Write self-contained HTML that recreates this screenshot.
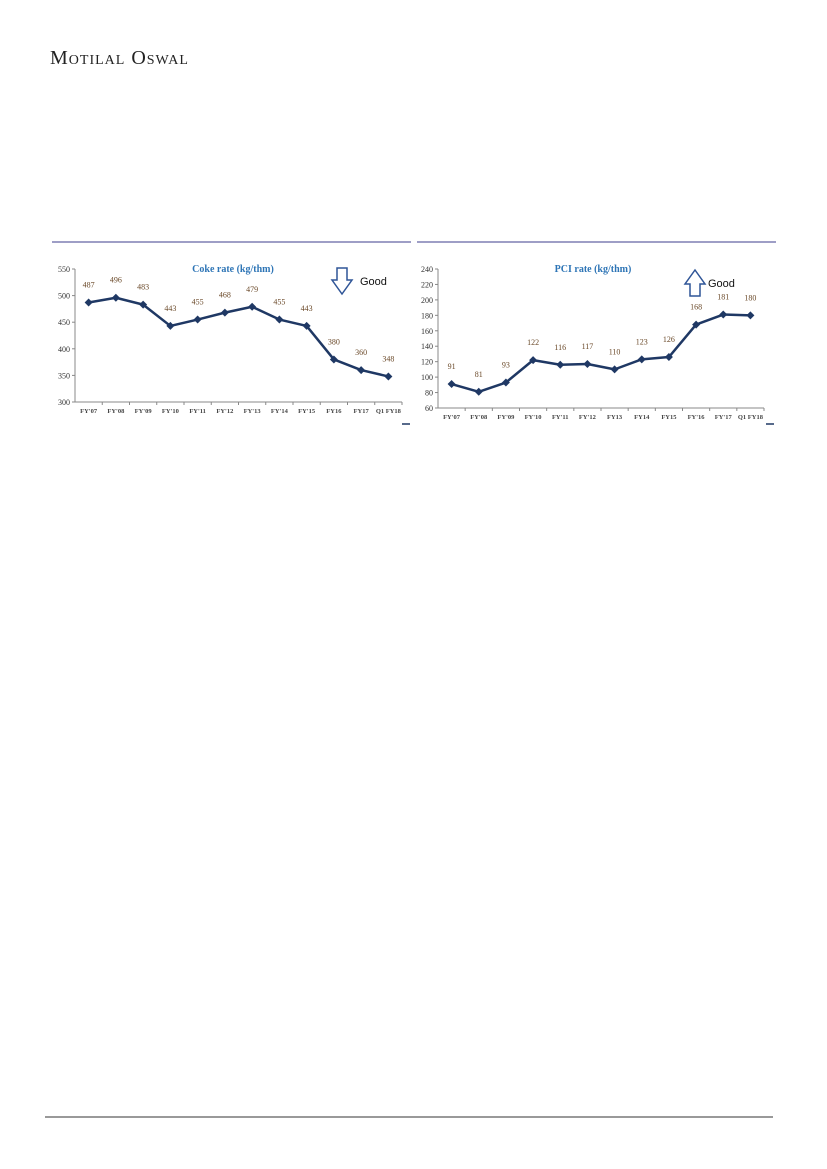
<!DOCTYPE html>
<html><head><meta charset="utf-8"><style>
body{margin:0;background:#fff;width:827px;height:1169px;position:relative;overflow:hidden;font-family:"Liberation Serif",serif}
.logo{position:absolute;left:50px;top:47px;font-size:20px;color:#222;font-variant:small-caps;letter-spacing:1px}
svg{position:absolute;left:0;top:0}
</style></head><body>
<div class="logo">Motilal Oswal</div>
<svg width="827" height="1169" id="svg">
<line x1="52" y1="242" x2="411" y2="242" stroke="#3c3c8c" stroke-width="1"/>
<line x1="417" y1="242" x2="776" y2="242" stroke="#3c3c8c" stroke-width="1"/>
<line x1="45" y1="1117" x2="773" y2="1117" stroke="#333" stroke-width="1"/>
</svg>
<script>
const categories=["FY'07","FY'08","FY'09","FY'10","FY'11","FY'12","FY'13","FY'14","FY'15","FY16","FY17","Q1 FY18"];
const categories2=["FY'07","FY'08","FY'09","FY'10","FY'11","FY'12","FY13","FY14","FY15","FY'16","FY'17","Q1 FY18"];
const cokeValues=[487,496,483,443,455,468,479,455,443,380,360,348];
const cokeTicks=[300,350,400,450,500,550];
const pciValues=[91,81,93,122,116,117,110,123,126,168,181,180];
const pciTicks=[60,80,100,120,140,160,180,200,220,240];
const NS="http://www.w3.org/2000/svg";
const svg=document.getElementById('svg');
function mk(t,a,txt){const e=document.createElementNS(NS,t);for(const k in a)e.setAttribute(k,a[k]);if(txt!=null)e.textContent=txt;svg.appendChild(e);return e;}
function chart(o){
  const {x0,x1,yTop,yBot,min,max,ticks,vals,cats,title,titleX,pref}=o;
  const n=cats.length,w=(x1-x0)/n;
  const xs=i=>x0+w*(i+0.5), ys=v=>yBot-(v-min)/(max-min)*(yBot-yTop);
  let e=mk('line',{x1:x0,y1:yTop,x2:x0,y2:yBot,stroke:'#888','stroke-width':1});
  
  e=mk('line',{x1:x0,y1:yBot,x2:x1,y2:yBot,stroke:'#888','stroke-width':1});
  
  ticks.forEach(t=>{
    const y=ys(t);
    mk('line',{x1:x0-3,y1:y,x2:x0,y2:y,stroke:'#888'});
    e=mk('text',{x:x0-5,y:y+3,'text-anchor':'end','font-size':8,fill:'#333'},t);
    
  });
  cats.forEach((c,i)=>{
    mk('line',{x1:x0+w*(i+1),y1:yBot,x2:x0+w*(i+1),y2:yBot+3,stroke:'#888'});
    e=mk('text',{x:xs(i),y:yBot+11,'text-anchor':'middle','font-size':6.5,'font-weight':'bold',fill:'#444'},c);
    
  });
  e=mk('polyline',{points:vals.map((v,i)=>xs(i)+','+ys(v)).join(' '),fill:'none',stroke:'#1f3864','stroke-width':2.5,'stroke-linejoin':'round'});
  
  vals.forEach((v,i)=>{
    const x=xs(i),y=ys(v);
    e=mk('polygon',{points:`${x},${y-4} ${x+4},${y} ${x},${y+4} ${x-4},${y}`,fill:'#1f3864'});
    
    e=mk('text',{x:x,y:y-15,'text-anchor':'middle','font-size':8,fill:'#6b4a2a'},v);
    
  });
  e=mk('text',{x:titleX,y:yTop+3,'text-anchor':'middle','font-size':10,'font-weight':'bold',fill:'#2e75b6'},title);
  
}
chart({x0:75,x1:402,yTop:269,yBot:402,min:300,max:550,ticks:cokeTicks,vals:cokeValues,cats:categories,title:'Coke rate (kg/thm)',titleX:233,pref:'coke'});
chart({x0:438,x1:764,yTop:269,yBot:408,min:60,max:240,ticks:pciTicks,vals:pciValues,cats:categories2,title:'PCI rate (kg/thm)',titleX:593,pref:'pci'});
// arrows
let a=mk('path',{d:'M337,268 h10 v12 h5 l-10,14 l-10,-14 h5 z',fill:'#fff',stroke:'#2f5597','stroke-width':1.5});

a=mk('text',{x:360,y:285,'font-size':11,'font-family':'Liberation Sans',fill:'#111'},'Good');

a=mk('path',{d:'M690,296 h10 v-12 h5 l-10,-14 l-10,14 h5 z',fill:'#fff',stroke:'#2f5597','stroke-width':1.5});

a=mk('text',{x:708,y:287,'font-size':11,'font-family':'Liberation Sans',fill:'#111'},'Good');

mk('line',{x1:402,y1:424,x2:410,y2:424,stroke:'#1f3864','stroke-width':1.5});
mk('line',{x1:766,y1:424,x2:774,y2:424,stroke:'#1f3864','stroke-width':1.5});
</script>
</body></html>
